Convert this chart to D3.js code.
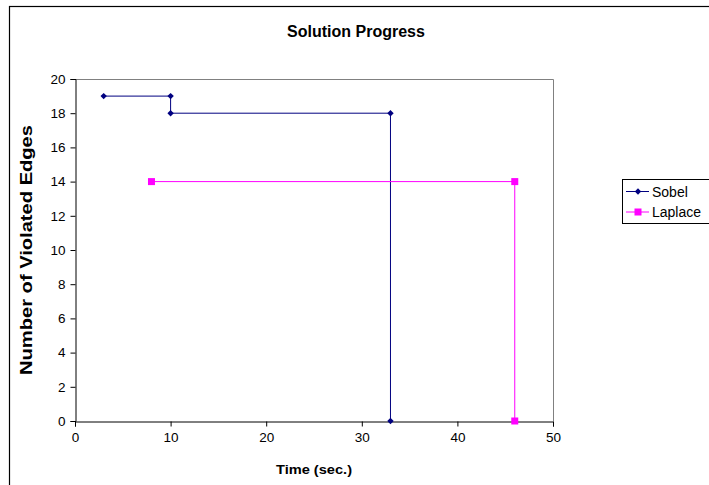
<!DOCTYPE html>
<html>
<head>
<meta charset="utf-8">
<script src="https://cdn.jsdelivr.net/npm/d3@7"></script>
<style>
  body { margin: 0; background: #fff; }
  text { font-family: Arial, "Liberation Sans", sans-serif; }
</style>
</head>
<body>
<svg id="chart-root" width="709" height="485"></svg>
<script>
// data
const seriesNames = ['Sobel', 'Laplace'];
const sobelTime = [3, 10, 10, 33, 33];
const sobelEdges = [19, 19, 18, 18, 0];
const laplaceTime = [8, 46, 46];
const laplaceEdges = [14, 14, 0];
const xTicks = [0, 10, 20, 30, 40, 50];
const yTicks = [0, 2, 4, 6, 8, 10, 12, 14, 16, 18, 20];

const svg = d3.select('#chart-root');

// plot area
const plotLeft = 75, plotRight = 553, plotTop = 79, plotBottom = 421;

const x = d3.scaleLinear().domain([0, 50]).range([plotLeft, plotRight]);
const y = d3.scaleLinear().domain([0, 20]).range([plotBottom, plotTop]);

// outer frame (right and bottom edges run off the window)
svg.append('rect')
    .attr('x', 9.5).attr('y', 6.5)
    .attr('width', 760).attr('height', 520)
    .attr('fill', 'none').attr('stroke', '#000').attr('stroke-width', 1.2);

svg.append('text')
    .attr('x', 356).attr('y', 37)
    .attr('text-anchor', 'middle')
    .attr('font-size', 16).attr('font-weight', 'bold')
    .text('Solution Progress');

// gray top and right edges of plot area
svg.append('path')
    .attr('d', `M${plotLeft},${plotTop + 0.5}H${plotRight + 0.5}V${plotBottom}`)
    .attr('fill', 'none').attr('stroke', '#808080');

const xAxis = svg.append('g')
    .attr('transform', `translate(0,${plotBottom + 0.5})`)
    .call(d3.axisBottom(x).tickValues(xTicks).tickSize(5).tickPadding(6));

const yAxis = svg.append('g')
    .attr('transform', `translate(${plotLeft + 0.5},0)`)
    .call(d3.axisLeft(y).tickValues(yTicks).tickSize(5).tickPadding(5));

[xAxis, yAxis].forEach(function (ax) {
    ax.selectAll('path, line').attr('stroke', '#000');
    ax.selectAll('text')
        .attr('font-family', 'Arial, "Liberation Sans", sans-serif')
        .attr('font-size', 13.5).attr('fill', '#000');
});

svg.append('text')
    .attr('x', 314).attr('y', 474)
    .attr('text-anchor', 'middle')
    .attr('font-size', 13).attr('font-weight', 'bold')
    .attr('textLength', 76).attr('lengthAdjust', 'spacingAndGlyphs')
    .text('Time (sec.)');

svg.append('text')
    .attr('transform', `translate(32,${(plotTop + plotBottom) / 2}) rotate(-90)`)
    .attr('text-anchor', 'middle')
    .attr('font-size', 16).attr('font-weight', 'bold')
    .attr('textLength', 250).attr('lengthAdjust', 'spacingAndGlyphs')
    .text('Number of Violated Edges');

const line = d3.line().x(d => x(d[0])).y(d => y(d[1]));
const diamond = d3.symbol().type(d3.symbolDiamond2).size(26);

const sobel = sobelTime.map((t, i) => [t, sobelEdges[i]]);
const laplace = laplaceTime.map((t, i) => [t, laplaceEdges[i]]);

svg.append('path').datum(sobel)
    .attr('d', line).attr('fill', 'none')
    .attr('stroke', '#000080').attr('stroke-width', 1);
svg.selectAll('.sobel-pt').data(sobel).enter().append('path')
    .attr('class', 'sobel-pt')
    .attr('d', diamond)
    .attr('transform', d => `translate(${x(d[0])},${y(d[1])})`)
    .attr('fill', '#000080');

svg.append('path').datum(laplace)
    .attr('d', line).attr('fill', 'none')
    .attr('stroke', '#ff00ff').attr('stroke-width', 1);
svg.selectAll('.laplace-pt').data(laplace).enter().append('rect')
    .attr('class', 'laplace-pt')
    .attr('x', d => x(d[0]) - 3.5).attr('y', d => y(d[1]) - 3.5)
    .attr('width', 7).attr('height', 7)
    .attr('fill', '#ff00ff');

// legend
const legend = svg.append('g').attr('transform', 'translate(622,179)');
legend.append('rect')
    .attr('x', 0.5).attr('y', 0.5).attr('width', 120).attr('height', 44)
    .attr('fill', '#fff').attr('stroke', '#000');

const legendColors = ['#000080', '#ff00ff'];
seriesNames.forEach(function (name, i) {
    const g = legend.append('g').attr('transform', `translate(0,${12.5 + i * 20.5})`);
    g.append('line').attr('x1', 4).attr('x2', 27).attr('y1', 0).attr('y2', 0)
        .attr('stroke', legendColors[i]);
    if (i === 0) {
        g.append('path').attr('d', diamond).attr('transform', 'translate(16,0)')
            .attr('fill', legendColors[i]);
    } else {
        g.append('rect').attr('x', 12.5).attr('y', -3.5).attr('width', 7).attr('height', 7)
            .attr('fill', legendColors[i]);
    }
    g.append('text').attr('x', 30).attr('y', 5)
        .attr('font-size', 14).text(name);
});
</script>
</body>
</html>
